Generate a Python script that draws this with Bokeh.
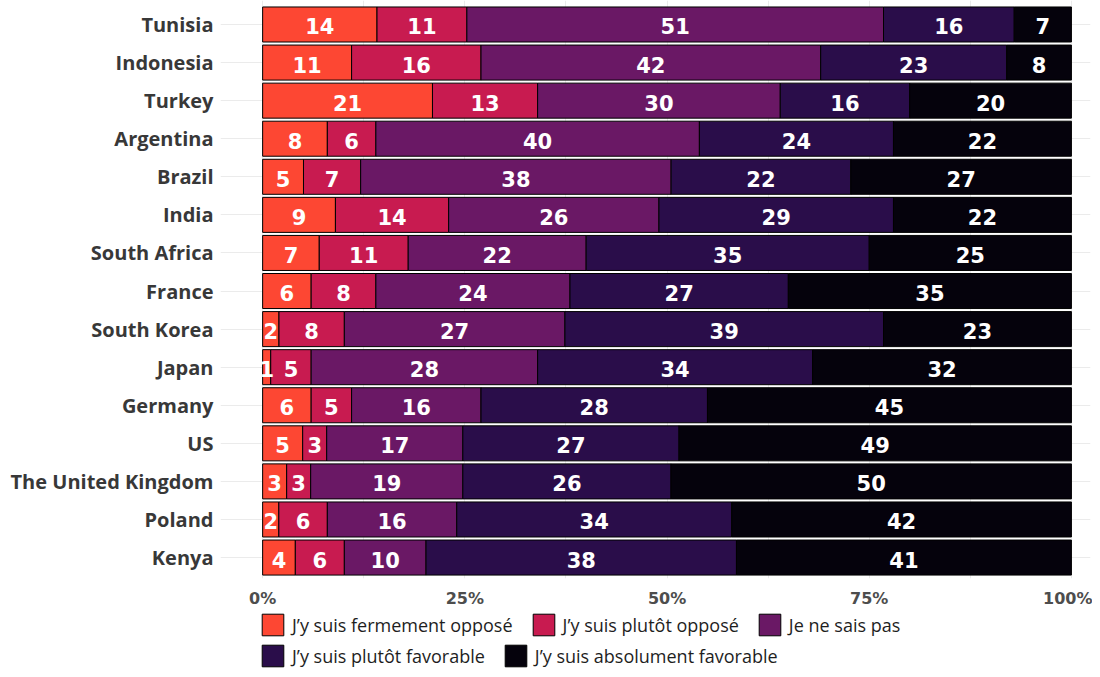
from bokeh.plotting import figure
from bokeh.layouts import column
from bokeh.models import Range1d, FixedTicker, Legend, LegendItem, ColumnDataSource
from bokeh.embed import file_html
from bokeh.resources import INLINE
from bokeh.core.properties import value
import numpy as np

countries = ["Tunisia", "Indonesia", "Turkey", "Argentina", "Brazil", "India",
             "South Africa", "France", "South Korea", "Japan", "Germany", "US",
             "The United Kingdom", "Poland", "Kenya"]
fermement_oppose = [14, 11, 21, 8, 5, 9, 7, 6, 2, 1, 6, 5, 3, 2, 4]
plutot_oppose = [11, 16, 13, 6, 7, 14, 11, 8, 8, 5, 5, 3, 3, 6, 6]
ne_sais_pas = [51, 42, 30, 40, 38, 26, 22, 24, 27, 28, 16, 17, 19, 16, 10]
plutot_favorable = [16, 23, 16, 24, 22, 29, 35, 27, 39, 34, 28, 27, 26, 34, 38]
absolument_favorable = [7, 8, 20, 22, 27, 22, 25, 35, 23, 32, 45, 49, 50, 42, 41]

categories = ["J\u2019y suis fermement oppos\u00e9", "J\u2019y suis plut\u00f4t oppos\u00e9",
              "Je ne sais pas", "J\u2019y suis plut\u00f4t favorable",
              "J\u2019y suis absolument favorable"]
colors = ["#FD4733", "#C81B50", "#6A1865", "#2A0D4A", "#05020C"]
x_ticks = [0, 0.25, 0.5, 0.75, 1.0]
x_tick_labels = ["0%", "25%", "50%", "75%", "100%"]

series = [fermement_oppose, plutot_oppose, ne_sais_pas, plutot_favorable, absolument_favorable]
n = len(countries)
ypos = [n - 1 - i for i in range(n)]
totals = np.sum(np.array(series, dtype=float), axis=0)

p = figure(width=1092, height=612, x_range=Range1d(-0.0521, 1.0236),
           y_range=Range1d(-0.55, 14.63), output_backend="svg",
           toolbar_location=None, min_border_left=220, min_border_right=2,
           min_border_top=0, min_border_bottom=34)
p.outline_line_color = None
p.background_fill_color = "white"

p.ygrid.ticker = FixedTicker(ticks=ypos)
p.ygrid.grid_line_color = "#EBEBEB"
p.xgrid.ticker = FixedTicker(ticks=[i / 8 for i in range(9)])
p.xgrid.grid_line_color = "#EBEBEB"

sources = []
left = np.zeros(n)
xs, ys, ts = [], [], []
for vals, col in zip(series, colors):
    frac = np.array(vals, dtype=float) / totals
    right = left + frac
    src = ColumnDataSource(dict(y=ypos, left=left.copy(), right=right.copy()))
    sources.append(src)
    p.hbar(y="y", left="left", right="right", height=0.92, source=src,
           fill_color=col, line_color="black", line_width=1)
    for i in range(n):
        xs.append((left[i] + right[i]) / 2)
        ys.append(ypos[i])
        ts.append(str(vals[i]))
    left = right

lab = ColumnDataSource(dict(x=xs, y=ys, t=ts))
p.text(x="x", y="y", text="t", source=lab, text_color="white",
       text_font=value("DejaVu Sans"), text_font_style="bold", text_font_size="21px",
       text_align="center", text_baseline="middle", y_offset=2)

p.yaxis.ticker = FixedTicker(ticks=ypos)
p.yaxis.major_label_overrides = {ypos[i]: countries[i] for i in range(n)}
p.xaxis.ticker = FixedTicker(ticks=x_ticks)
p.xaxis.major_label_overrides = {x_ticks[i]: x_tick_labels[i] for i in range(len(x_ticks))}
for ax in (p.xaxis, p.yaxis):
    ax.axis_line_color = None
    ax.major_tick_line_color = None
    ax.minor_tick_line_color = None
    ax.major_tick_out = 0
    ax.major_tick_in = 0
    ax.major_label_text_font_style = "bold"
p.yaxis.major_label_text_font = "Open Sans"
p.yaxis.major_label_text_font_size = "20px"
p.yaxis.major_label_text_color = "#383838"
p.yaxis.major_label_standoff = 7
p.xaxis.major_label_text_font = "DejaVu Sans"
p.xaxis.major_label_text_font_size = "16px"
p.xaxis.major_label_text_color = "#4D4D4D"
p.xaxis.major_label_standoff = 10

# legend figure (frame aligned with the main chart's frame)
lg = figure(width=1092, height=57, x_range=Range1d(-0.0521, 1.0236),
            y_range=Range1d(100, 157), output_backend="svg",
            toolbar_location=None, x_axis_type=None, y_axis_type=None,
            min_border_left=220, min_border_right=2,
            min_border_top=0, min_border_bottom=0)
lg.outline_line_color = None
lg.grid.visible = False
swatches = []
for src, col in zip(sources, colors):
    swatches.append(lg.hbar(y="y", left="left", right="right", height=0.92, source=src,
                            fill_color=col, line_color="black", line_width=1))

common = dict(orientation="horizontal", padding=0, margin=0, spacing=17,
              label_standoff=6, glyph_width=27, glyph_height=27, label_height=27,
              label_text_font="Open Sans", label_text_font_size="18px",
              label_text_color="#1E1E1E", border_line_alpha=0,
              background_fill_alpha=0)
leg1 = Legend(items=[LegendItem(label=categories[i], renderers=[swatches[i]]) for i in range(3)],
              location=(39, 31), **common)
leg2 = Legend(items=[LegendItem(label=categories[i], renderers=[swatches[i]]) for i in range(3, 5)],
              location=(39, 0), **common)
lg.add_layout(leg1)
lg.add_layout(leg2)

layout = column(p, lg, spacing=0)
open("out.html", "w").write(file_html(layout, INLINE))
